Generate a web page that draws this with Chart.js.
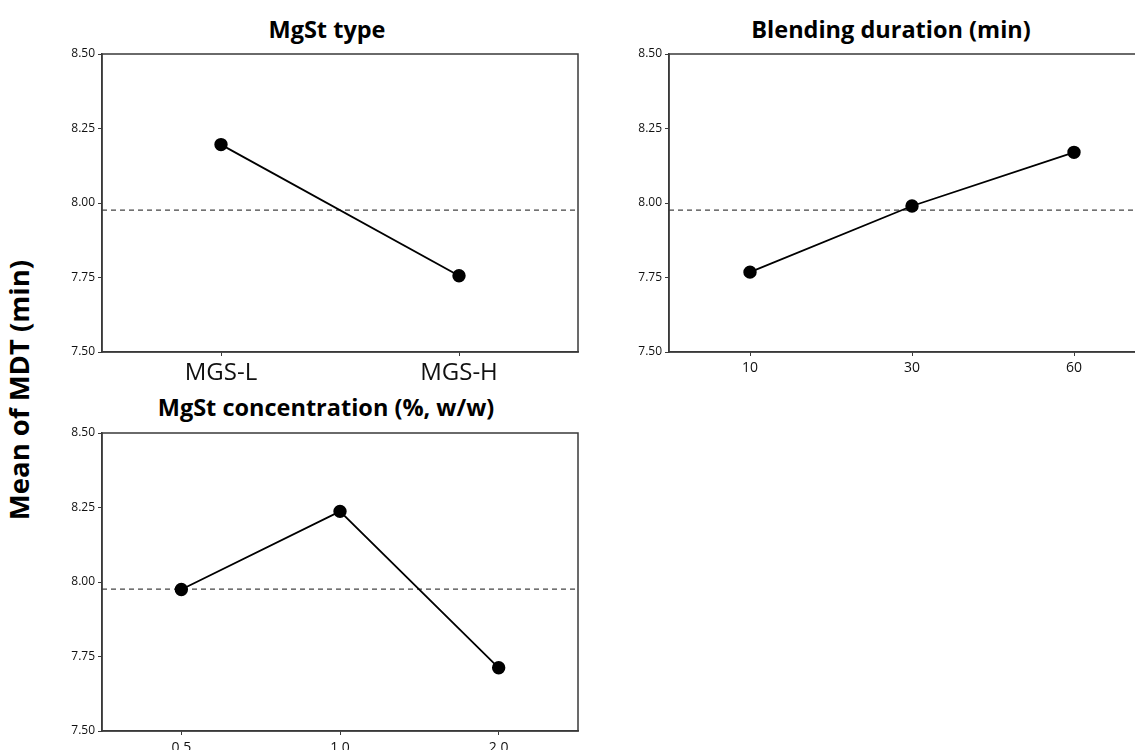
<!DOCTYPE html>
<html>
<head>
<meta charset="utf-8">
<script src="https://cdn.jsdelivr.net/npm/chart.js@4/dist/chart.umd.min.js"></script>
<style>
  html, body {
    margin: 0;
    padding: 0;
    background: #fff;
    overflow: hidden;
  }
  .page {
    position: relative;
    width: 1135px;
    height: 750px;
    overflow: hidden;
  }
  .panel {
    position: absolute;
  }
  .panel__title {
    position: absolute;
    transform: translate(-50%, -50%);
    white-space: nowrap;
    font-family: "Open Sans", sans-serif;
    font-weight: 700;
    font-size: 23.5px;
    color: #000;
  }
  .y-title {
    position: absolute;
    left: 18px;
    top: 390px;
    transform: translate(-50%, -50%) rotate(-90deg);
    white-space: nowrap;
    font-family: "Open Sans", sans-serif;
    font-weight: 700;
    font-size: 27.5px;
    color: #000;
  }
</style>
</head>
<body>
<div class="page">
  <div class="y-title">Mean of MDT (min)</div>

  <div class="panel__title" style="left: 327px; top: 29px;">MgSt type</div>
  <div class="panel__title" style="left: 891px; top: 29px;">Blending duration (min)</div>
  <div class="panel__title" style="left: 326px; top: 407px;">MgSt concentration (%, w/w)</div>

  <div class="panel" style="left: 40px; top: 0px; width: 560px; height: 400px;">
    <canvas id="type-chart"></canvas>
  </div>
  <div class="panel" style="left: 607px; top: 0px; width: 568px; height: 400px;">
    <canvas id="duration-chart"></canvas>
  </div>
  <div class="panel" style="left: 40px; top: 380px; width: 560px; height: 400px;">
    <canvas id="conc-chart"></canvas>
  </div>
</div>

<script>
  // main effects plot data (mean MDT, min)
  const typeLabels = ["MGS-L", "MGS-H"];
  const typeMeans = [8.196, 7.756];

  const durationLabels = ["10", "30", "60"];
  const durationMeans = [7.768, 7.99, 8.17];

  const concLabels = ["0.5", "1.0", "2.0"];
  const concMeans = [7.975, 8.237, 7.712];

  const grandMean = 7.976;
  const yMin = 7.5;
  const yMax = 8.5;
  const yStep = 0.25;

  // box round the plot area
  const framePlugin = {
    id: "frame",
    afterDatasetsDraw: (chart) => {
      const { ctx, chartArea } = chart;
      ctx.save();
      ctx.strokeStyle = "#3a3a3a";
      ctx.lineWidth = 1.5;
      ctx.strokeRect(
        chartArea.left,
        chartArea.top,
        chartArea.right - chartArea.left,
        chartArea.bottom - chartArea.top
      );
      ctx.restore();
    },
  };

  // dashed reference line at the grand mean
  const meanLinePlugin = {
    id: "meanLine",
    beforeDatasetsDraw: (chart) => {
      const { ctx, chartArea, scales } = chart;
      const y = scales.y.getPixelForValue(grandMean);
      ctx.save();
      ctx.strokeStyle = "#444";
      ctx.lineWidth = 1.3;
      ctx.setLineDash([5, 4]);
      ctx.beginPath();
      ctx.moveTo(chartArea.left, y);
      ctx.lineTo(chartArea.right, y);
      ctx.stroke();
      ctx.restore();
    },
  };

  function makeChart(id, labels, values, opts) {
    const el = document.getElementById(id).getContext("2d");

    return new Chart(el, {
      type: "line",
      data: {
        labels: labels,
        datasets: [
          {
            label: "Mean",
            data: values,
            borderColor: "#000",
            backgroundColor: "#000",
            borderWidth: 1.8,
            pointRadius: 5.8,
            pointHoverRadius: 5.8,
            tension: 0,
          },
        ],
      },
      options: {
        responsive: true,
        maintainAspectRatio: false,
        animation: false,
        layout: {
          padding: {
            top: opts.padTop,
            right: opts.padRight,
            bottom: opts.padBottom,
            left: 0,
          },
        },
        plugins: {
          legend: { display: false },
          tooltip: { enabled: false },
          title: { display: false },
        },
        scales: {
          x: {
            type: "category",
            offset: true,
            grid: {
              offset: false,
              drawOnChartArea: false,
              drawTicks: true,
              tickLength: 4,
              color: "#3a3a3a",
            },
            border: { display: true, color: "#3a3a3a", width: 1.5 },
            ticks: {
              color: "#111",
              padding: opts.xPad,
              maxRotation: 0,
              font: { family: "'Open Sans', sans-serif", size: opts.xFont },
            },
            afterFit: (scale) => {
              scale.height = 40;
            },
          },
          y: {
            min: yMin,
            max: yMax,
            grid: {
              drawOnChartArea: false,
              drawTicks: true,
              tickLength: 4,
              color: "#3a3a3a",
            },
            border: { display: true, color: "#3a3a3a", width: 1.5 },
            ticks: {
              stepSize: yStep,
              padding: 3,
              color: "#111",
              font: { family: "'Open Sans', sans-serif", size: 12 },
              callback: (v) => Number(v).toFixed(2),
            },
            afterFit: (scale) => {
              scale.width = 62;
            },
          },
        },
      },
      plugins: [meanLinePlugin, framePlugin],
    });
  }

  makeChart("type-chart", typeLabels, typeMeans, {
    padTop: 54,
    padRight: 22,
    padBottom: 8,
    xFont: 24,
    xPad: 3,
  });

  makeChart("duration-chart", durationLabels, durationMeans, {
    padTop: 54,
    padRight: 20,
    padBottom: 8,
    xFont: 14,
    xPad: 4,
  });

  makeChart("conc-chart", concLabels, concMeans, {
    padTop: 53,
    padRight: 22,
    padBottom: 9,
    xFont: 14,
    xPad: 5,
  });
</script>
</body>
</html>
